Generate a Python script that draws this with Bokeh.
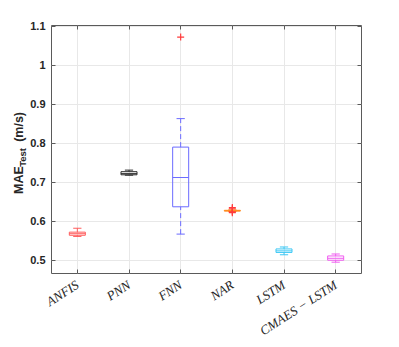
import math
from bokeh.plotting import figure
from bokeh.models import Range1d, FixedTicker, LinearAxis, ColumnDataSource
from bokeh.embed import file_html
from bokeh.resources import INLINE

# ---------------- data ----------------
categories = ["ANFIS", "PNN", "FNN", "NAR", "LSTM", "CMAES \u2212 LSTM"]
lower_whisker = [0.561, 0.718, 0.567, 0.625, 0.514, 0.495]
q1 = [0.564, 0.719, 0.637, 0.626, 0.520, 0.500]
median = [0.568, 0.722, 0.712, 0.627, 0.524, 0.505]
q3 = [0.572, 0.727, 0.790, 0.628, 0.529, 0.511]
upper_whisker = [0.582, 0.731, 0.863, 0.629, 0.534, 0.516]
outlier_category = ["FNN", "NAR", "NAR", "NAR", "NAR"]
outlier_value = [1.072, 0.622, 0.624, 0.632, 0.635]
y_ticks = [0.5, 0.6, 0.7, 0.8, 0.9, 1.0, 1.1]
y_tick_labels = ["0.5", "0.6", "0.7", "0.8", "0.9", "1", "1.1"]
box_colors = ["#ff5c5c", "#2b2b2b", "#6b6bff", "#ff8a1f", "#3cc8f5", "#f05cf0"]
y_label_main = "MAE"
y_label_sub = "Test"
y_label_unit = "(m/s)"

# ---------------- styling ----------------
BOX_HALF = 0.155
CAP_HALF = 0.08
AX_COL = "#5a5a5a"
GRID_COL = "#e8e8e8"
TXT_COL = "#262626"
NBSP = "\u00a0"

pos = [i + 1 for i in range(len(categories))]
src = ColumnDataSource(dict(
    x=pos,
    left=[x - BOX_HALF for x in pos], right=[x + BOX_HALF for x in pos],
    cl=[x - CAP_HALF for x in pos], cr=[x + CAP_HALF for x in pos],
    lw=lower_whisker, q1=q1, med=median, q3=q3, uw=upper_whisker,
    color=box_colors,
))
out_src = ColumnDataSource(dict(
    x=[categories.index(c) + 1 for c in outlier_category],
    y=outlier_value,
))

W, H = 399, 347
ML, MR, MT, MB = 51, 38, 25, 73
x0, x1 = 0.5, 6.5
y0, y1 = 0.466, 1.1017

p = figure(width=W, height=H, x_range=Range1d(x0, x1), y_range=Range1d(y0, y1),
           output_backend="svg", toolbar_location=None,
           min_border_left=ML, min_border_right=MR, min_border_top=MT, min_border_bottom=MB)
p.background_fill_color = "white"
p.border_fill_color = "white"
p.outline_line_color = AX_COL
p.outline_line_width = 1

# grid
p.xgrid.ticker = FixedTicker(ticks=pos)
p.ygrid.ticker = FixedTicker(ticks=y_ticks)
p.xgrid.grid_line_color = GRID_COL
p.ygrid.grid_line_color = GRID_COL

# axes
xa = p.xaxis[0]
xa.ticker = FixedTicker(ticks=pos)
xa.major_label_overrides = {x: c for x, c in zip(pos, categories)}
xa.major_label_orientation = math.radians(33)
xa.major_label_text_font = "Liberation Serif"
xa.major_label_text_font_style = "italic"
xa.major_label_text_font_size = "13px"
xa.major_label_text_color = TXT_COL
xa.major_label_standoff = 10

ya = p.yaxis[0]
ya.ticker = FixedTicker(ticks=y_ticks)
ya.major_label_overrides = {t: l for t, l in zip(y_ticks, y_tick_labels)}
ya.major_label_text_font = "Liberation Sans"
ya.major_label_text_font_style = "bold"
ya.major_label_text_font_size = "11px"
ya.major_label_text_color = TXT_COL
ya.major_label_standoff = 6

for ax in (xa, ya):
    ax.axis_line_color = None
    ax.major_tick_in = 4
    ax.major_tick_out = 0
    ax.major_tick_line_color = AX_COL
    ax.minor_tick_line_color = None

top = LinearAxis(ticker=FixedTicker(ticks=pos), major_label_overrides={x: "" for x in pos},
                 major_tick_in=4, major_tick_out=0, major_tick_line_color=AX_COL,
                 minor_tick_line_color=None, axis_line_color=None, major_label_standoff=0)
right = LinearAxis(ticker=FixedTicker(ticks=y_ticks), major_label_overrides={t: "" for t in y_ticks},
                   major_tick_in=4, major_tick_out=0, major_tick_line_color=AX_COL,
                   minor_tick_line_color=None, axis_line_color=None, major_label_standoff=0)
p.add_layout(top, "above")
p.add_layout(right, "right")

# y-axis title "MAE_Test (m/s)": two extra label-only axes stacked on the left
def label_axis(text, size, standoff):
    return LinearAxis(ticker=FixedTicker(ticks=[]), axis_label=text,
                      axis_label_text_font="Liberation Sans", axis_label_text_font_style="bold",
                      axis_label_text_font_size=size, axis_label_text_color=TXT_COL,
                      axis_label_standoff=standoff, axis_line_color=None,
                      major_tick_in=0, major_tick_out=0, major_tick_line_color=None,
                      minor_tick_line_color=None, major_label_standoff=0)

sub_axis = label_axis(y_label_sub + NBSP * 6, "9.5px", 0)
main_axis = label_axis(y_label_main + NBSP * 7 + y_label_unit + NBSP * 2, "12.5px", -12)
p.add_layout(sub_axis, "left")
p.add_layout(main_axis, "left")

# boxplots
p.segment(x0="x", y0="q3", x1="x", y1="uw", source=src, line_color="color", line_width=1, line_dash="5 3")
p.segment(x0="x", y0="lw", x1="x", y1="q1", source=src, line_color="color", line_width=1, line_dash="5 3")
p.segment(x0="cl", y0="uw", x1="cr", y1="uw", source=src, line_color="color", line_width=1)
p.segment(x0="cl", y0="lw", x1="cr", y1="lw", source=src, line_color="color", line_width=1)
p.quad(left="left", right="right", bottom="q1", top="q3", source=src,
       fill_color=None, line_color="color", line_width=1)
p.segment(x0="left", y0="med", x1="right", y1="med", source=src, line_color="color", line_width=1)
p.scatter(x="x", y="y", source=out_src, marker="cross", size=7, line_color="#ff3b3b", line_width=1.2)

open("out.html", "w").write(file_html(p, INLINE))
